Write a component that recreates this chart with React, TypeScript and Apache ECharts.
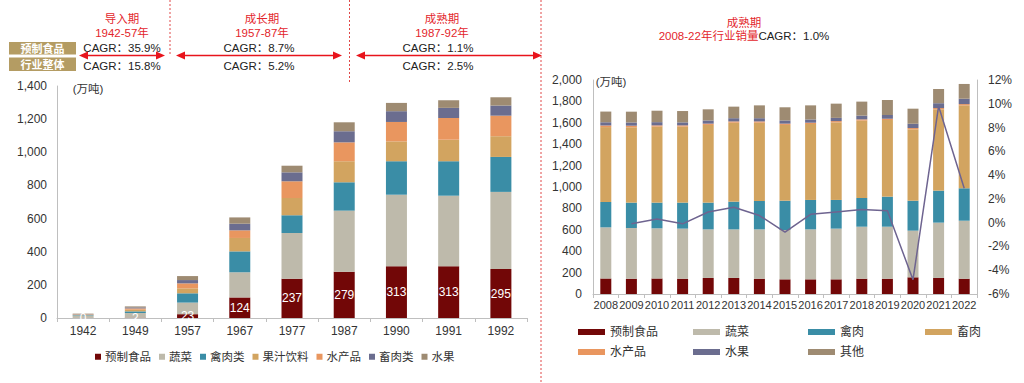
import React, { useEffect, useRef } from "react";
import * as echarts from "echarts";

const leftYears = ["1942", "1949", "1957", "1967", "1977", "1987", "1990", "1991", "1992"];
const leftPrepared = [0.4, 2, 23, 124, 237, 279, 313, 313, 295];
const leftVeg = [14, 28, 70, 152, 276, 369, 431, 425, 466];
const leftPoultry = [3, 10, 56, 126, 107, 171, 202, 208, 211];
const leftJuice = [3, 10, 30, 81, 104, 127, 120, 130, 125];
const leftAquatic = [2, 8, 30, 46, 101, 114, 117, 131, 124];
const leftLivestock = [2, 6, 20, 40, 54, 67, 65, 61, 61];
const leftFruit = [2, 6, 24, 38, 40, 54, 50, 46, 50];

const rightYears = ["2008", "2009", "2010", "2011", "2012", "2013", "2014", "2015", "2016", "2017", "2018", "2019", "2020", "2021", "2022"];
const rightPrepared = [145, 143, 145, 143, 150, 150, 143, 137, 137, 137, 143, 143, 156, 150, 143];
const rightVeg = [478, 474, 469, 468, 454, 454, 461, 461, 467, 474, 486, 486, 436, 517, 542];
const rightPoultry = [237, 237, 240, 243, 250, 259, 265, 274, 275, 268, 268, 281, 280, 299, 303];
const rightLivestock = [700, 704, 710, 710, 726, 738, 732, 708, 710, 725, 723, 716, 667, 760, 775];
const rightAquatic = [15, 15, 12, 12, 12, 12, 12, 12, 12, 12, 12, 12, 12, 12, 12];
const rightFruit = [30, 30, 30, 28, 30, 30, 30, 30, 30, 30, 35, 35, 40, 45, 50];
const rightOther = [100, 101, 107, 106, 104, 108, 120, 123, 132, 133, 131, 140, 141, 133, 138];
const rightGrowth = [null, -0.1, 0.3, -0.1, 0.9, 1.3, 0.6, -0.8, 0.7, 0.9, 1.1, 1.0, -4.8, 9.8, 2.9];

const leftLegendNames = ["预制食品", "蔬菜", "禽肉类", "果汁饮料", "水产品", "畜肉类", "水果"];
const rightLegendNames = ["预制食品", "蔬菜", "禽肉", "畜肉", "水产品", "水果", "其他"];

const C = {
  prepared: "#720707",
  veg: "#BEBAAB",
  poultry: "#3A8DA6",
  gold: "#D2A460",
  orange: "#E9965F",
  purple: "#6B6D8F",
  brown: "#9E8B72",
};
const RED = "#E3262C";
const FONT = "Arial, 'Liberation Sans', 'Noto Sans CJK SC', sans-serif";

export default function App() {
  const ref = useRef<HTMLDivElement>(null);
  useEffect(() => {
    if (!ref.current) return;
    const chart = echarts.init(ref.current, undefined, { renderer: "svg" });

    const leftColors = [C.prepared, C.veg, C.poultry, C.gold, C.orange, C.purple, C.brown];
    const leftData = [leftPrepared, leftVeg, leftPoultry, leftJuice, leftAquatic, leftLivestock, leftFruit];
    const rightColors = [C.prepared, C.veg, C.poultry, C.gold, C.orange, C.purple, C.brown];
    const rightData = [rightPrepared, rightVeg, rightPoultry, rightLivestock, rightAquatic, rightFruit, rightOther];

    const series: any[] = [];
    leftLegendNames.forEach((n, i) => {
      series.push({
        type: "bar",
        name: n,
        xAxisIndex: 0,
        yAxisIndex: 0,
        stack: "L",
        barWidth: 21,
        itemStyle: { color: leftColors[i] },
        data: leftData[i],
        label:
          i === 0
            ? {
                show: true,
                position: "inside",
                color: "#fff",
                fontSize: 12,
                fontFamily: FONT,
                formatter: (p: any) => String(Math.round(p.value)),
              }
            : { show: false },
      });
    });
    rightLegendNames.forEach((n, i) => {
      series.push({
        type: "bar",
        name: n,
        xAxisIndex: 1,
        yAxisIndex: 1,
        stack: "R",
        barWidth: 11,
        itemStyle: { color: rightColors[i] },
        data: rightData[i],
      });
    });
    series.push({
      type: "line",
      name: "增速",
      xAxisIndex: 1,
      yAxisIndex: 2,
      data: rightGrowth,
      showSymbol: false,
      symbol: "none",
      lineStyle: { color: "#6E6490", width: 1.5 },
      itemStyle: { color: "#6E6490" },
      z: 5,
    });

    const axisLine = { show: true, lineStyle: { color: "#BFBFBF", width: 1 } };
    const labelStyle = { color: "#333", fontSize: 12, fontFamily: FONT };

    const legends: any[] = [
      {
        left: 95,
        top: 351,
        padding: 0,
        itemWidth: 6,
        itemHeight: 6,
        itemGap: 8,
        icon: "rect",
        textStyle: { color: "#333", fontSize: 11.5, fontFamily: FONT, padding: [0, 0, 0, -1] },
        data: leftLegendNames.map((n, i) => ({ name: n, itemStyle: { color: leftColors[i] } })),
      },
    ];
    const rPos = [
      [578, 333], [693, 333], [808, 333], [925, 333],
      [578, 353], [693, 353], [808, 353],
    ];
    rightLegendNames.forEach((n, i) => {
      legends.push({
        left: rPos[i][0],
        top: rPos[i][1] - 7,
        padding: 0,
        itemWidth: 27,
        itemHeight: 6,
        icon: "rect",
        textStyle: { color: "#333", fontSize: 12, fontFamily: FONT },
        data: [{ name: n, itemStyle: { color: rightColors[i] } }],
      });
    });

    const arrow = (x1: number, x2: number, y: number) => [
      { type: "line", shape: { x1: x1 + 4, y1: y, x2: x2 - 4, y2: y }, style: { stroke: "#E8141C", lineWidth: 1.6 } },
      { type: "polygon", shape: { points: [[x1, y], [x1 + 9, y - 4], [x1 + 9, y + 4]] }, style: { fill: "#E8141C" } },
      { type: "polygon", shape: { points: [[x2, y], [x2 - 9, y - 4], [x2 - 9, y + 4]] }, style: { fill: "#E8141C" } },
    ];
    const dotted = (x: number, y1: number, y2: number) => ({
      type: "line",
      shape: { x1: x, y1, x2: x, y2 },
      style: { stroke: "#E04848", lineWidth: 1, lineDash: [2, 2] },
    });
    const txt = (x: number, y: number, s: string, color: string, size = 11.5, extra: any = {}) => ({
      type: "text",
      x,
      y,
      style: { text: s, fill: color, fontSize: size, fontFamily: FONT, align: "center", verticalAlign: "middle", ...extra },
    });

    const graphic: any[] = [
      dotted(170, 0, 54),
      dotted(349.5, 0, 82),
      dotted(541, 0, 383),
      txt(122, 19, "导入期", RED, 11.5),
      txt(122, 33, "1942-57年", RED, 11.5),
      txt(262, 19, "成长期", RED, 11.5),
      txt(262, 33, "1957-87年", RED, 11.5),
      txt(442, 19, "成熟期", RED, 11.5),
      txt(442, 33, "1987-92年", RED, 11.5),
      { type: "rect", shape: { x: 9, y: 42, width: 67, height: 12.5 }, style: { fill: "#B49C63" } },
      { type: "rect", shape: { x: 9, y: 57.5, width: 67, height: 13.5 }, style: { fill: "#B49C63" } },
      txt(42.5, 48.5, "预制食品", "#fff", 11, { fontWeight: "bold" }),
      txt(42.5, 64.5, "行业整体", "#fff", 11, { fontWeight: "bold" }),
      txt(122, 47.5, "CAGR：35.9%", "#222", 11.5),
      txt(122, 66, "CAGR：15.8%", "#222", 11.5),
      txt(259, 47.5, "CAGR：8.7%", "#222", 11.5),
      txt(259, 66, "CAGR：5.2%", "#222", 11.5),
      txt(438, 47.5, "CAGR：1.1%", "#222", 11.5),
      txt(438, 66, "CAGR：2.5%", "#222", 11.5),
      ...arrow(79, 165, 55.5),
      ...arrow(176, 342, 55.5),
      ...arrow(356, 542, 55.5),
      txt(88, 89, "(万吨)", "#333", 11.5),
      txt(611, 82, "(万吨)", "#333", 11.5),
      txt(744, 22.5, "成熟期", RED, 11.5),
      {
        type: "text",
        x: 744,
        y: 35.5,
        style: {
          text: "{r|2008-22年行业销量}{k|CAGR：1.0%}",
          align: "center",
          verticalAlign: "middle",
          fontFamily: FONT,
          fontSize: 11.5,
          rich: {
            r: { fill: RED, fontSize: 11.5, fontFamily: FONT },
            k: { fill: "#222", fontSize: 11.5, fontFamily: FONT },
          },
        },
      },
    ];

    chart.setOption({
      animation: false,
      textStyle: { fontFamily: FONT },
      grid: [
        { left: 57, top: 86, width: 470, height: 232 },
        { left: 593, top: 80, width: 384, height: 214 },
      ],
      xAxis: [
        {
          type: "category",
          gridIndex: 0,
          data: leftYears,
          axisLine,
          axisTick: { show: true, lineStyle: { color: "#BFBFBF" }, length: 4 },
          axisLabel: { ...labelStyle, margin: 7 },
        },
        {
          type: "category",
          gridIndex: 1,
          data: rightYears,
          axisLine,
          axisTick: { show: true, lineStyle: { color: "#BFBFBF" }, length: 4 },
          axisLabel: { ...labelStyle, fontSize: 11, interval: 0, margin: 5 },
        },
      ],
      yAxis: [
        {
          type: "value",
          gridIndex: 0,
          min: 0,
          max: 1400,
          interval: 200,
          axisLine,
          axisTick: { show: false },
          splitLine: { show: false },
          axisLabel: { ...labelStyle, margin: 10, formatter: (v: number) => v.toLocaleString("en-US") },
        },
        {
          type: "value",
          gridIndex: 1,
          min: 0,
          max: 2000,
          interval: 200,
          axisLine,
          axisTick: { show: false },
          splitLine: { show: false },
          axisLabel: { ...labelStyle, margin: 11, formatter: (v: number) => v.toLocaleString("en-US") },
        },
        {
          type: "value",
          gridIndex: 1,
          position: "right",
          min: -6,
          max: 12,
          interval: 2,
          axisLine,
          axisTick: { show: false },
          splitLine: { show: false },
          axisLabel: { ...labelStyle, margin: 11, formatter: (v: number) => v + "%" },
        },
      ],
      legend: legends,
      series,
      graphic,
    });
    return () => chart.dispose();
  }, []);
  return <div ref={ref} style={{ width: 1024, height: 383, position: "absolute", left: 0, top: 0, background: "#fff" }} />;
}
